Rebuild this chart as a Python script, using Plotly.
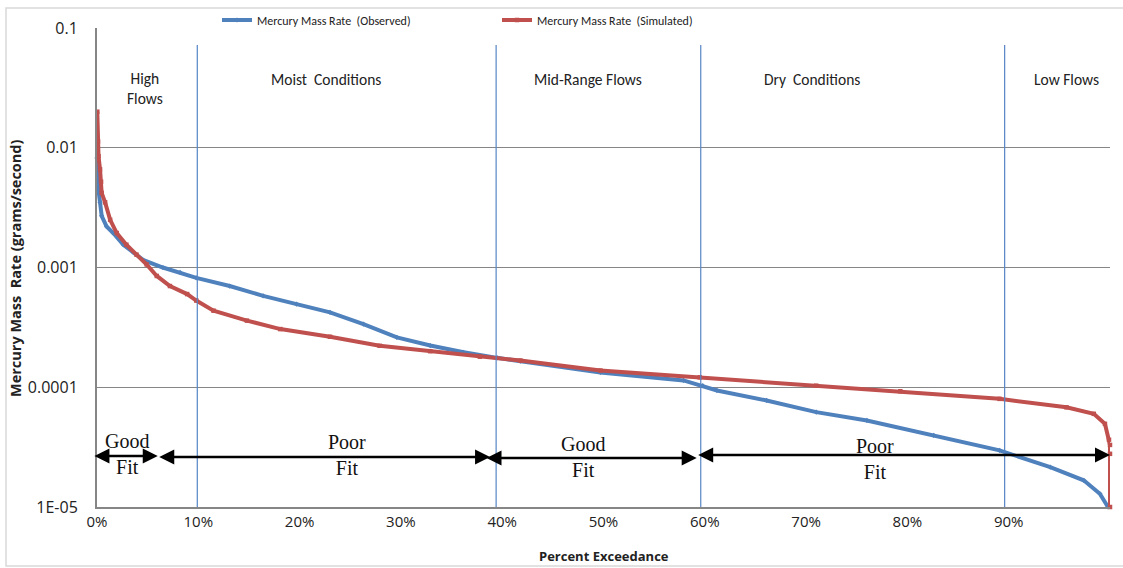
import plotly.graph_objects as go

# ---------------- data ----------------
obs_pct = [0, 0.13, 0.3, 0.46, 0.95, 1.6, 2.6, 3.6, 4.6, 6.5, 8.2, 9.8, 13.1, 16.4,
           19.7, 23, 26.3, 29.6, 32.9, 36.2, 39.5, 41.8, 49.7, 57.9, 59.8, 61.2,
           66.1, 71, 76, 82.6, 89.1, 94.1, 97.4, 99, 99.8]
obs_val = [0.0082, 0.0045, 0.0035, 0.0027, 0.0022, 0.00194, 0.00155, 0.00133, 0.00115,
           0.001, 0.00091, 0.00082, 0.0007, 0.00058, 0.000495, 0.000422, 0.000337,
           0.000261, 0.000223, 0.000196, 0.000176, 0.000165, 0.000133, 0.000114,
           0.000103, 0.000094, 0.0000776, 0.000062, 0.0000528, 0.0000396, 0.0000297,
           0.0000215, 0.0000167, 0.0000129, 0.00001]

sim_pct = [0.03, 0.1, 0.15, 0.3, 0.4, 0.46, 0.8, 1.3, 1.95, 2.9, 3.9, 4.9, 5.9, 7.2,
           8.9, 9.8, 11.5, 14.8, 18.1, 23, 27.9, 32.9, 37.8, 41.8, 49.7, 59.5, 71,
           79.3, 89.1, 95.7, 98.4, 99.5, 99.9, 100, 100, 100]
sim_val = [0.02, 0.0113, 0.0085, 0.0066, 0.0052, 0.0042, 0.0035, 0.0025, 0.00194,
           0.00155, 0.00128, 0.00106, 0.00085, 0.0007, 0.0006, 0.00053, 0.000436,
           0.00036, 0.000306, 0.000264, 0.000222, 0.0002, 0.00018, 0.000167,
           0.000138, 0.000121, 0.000103, 0.0000926, 0.00008, 0.000068, 0.00006,
           0.0000495, 0.0000365, 0.000033, 0.0000278, 0.00001]

x_ticks = [0, 10, 20, 30, 40, 50, 60, 70, 80, 90, 100]
x_tick_text = ["0%", "10%", "20%", "30%", "40%", "50%", "60%", "70%", "80%", "90%", "100%"]
y_ticks = [0.00001, 0.0001, 0.001, 0.01, 0.1]
y_tick_text = ["1E-05", "0.0001", "0.001", "0.01", "0.1"]

region_pct = [9.9, 39.4, 59.6, 89.6]
region_labels = ["High<br>Flows", "Moist  Conditions", "Mid-Range Flows",
                 "Dry  Conditions", "Low Flows"]
region_label_pct = [4.7, 22.6, 48.5, 70.6, 95.7]
fit_labels = ["Good<br>Fit", "Poor<br>Fit", "Good<br>Fit", "Poor<br>Fit"]
fit_label_pct = [2.96, 24.7, 48.0, 76.8]
fit_arrows = [(-0.4, 6.0), (6.0, 38.8), (38.3, 59.2), (59.2, 100)]

y_title = "<b>Mercury Mass  Rate (grams/second)</b>"
x_title = "<b>Percent Exceedance</b>"

# ---------------- layout helpers ----------------
L, R, T, B = 97, 1110, 28, 507
W, H = 1123, 568


def py(yp):
    return (B - yp) / (B - T)


def pxp(xp):
    return (xp - L) / (R - L)


BLUE = "#4F81BD"
RED = "#C0504D"
SANS = "Carlito, 'Liberation Sans Narrow', 'DejaVu Sans Condensed', 'Open Sans', sans-serif"
TICKF = "'Open Sans', sans-serif"
SERIF = "'Liberation Serif', 'Times New Roman', serif"

fig = go.Figure()
fig.add_trace(go.Scatter(
    x=obs_pct, y=obs_val, name="Mercury Mass Rate  (Observed)",
    mode="lines+markers", line=dict(color=BLUE, width=4), cliponaxis=False,
    marker=dict(symbol="diamond", size=4, color=BLUE)))
fig.add_trace(go.Scatter(
    x=sim_pct, y=sim_val, name="Mercury Mass Rate  (Simulated)",
    mode="lines+markers", line=dict(color=RED, width=4), cliponaxis=False,
    marker=dict(symbol="square", size=4.5, color=RED)))

shapes = []
for p in region_pct:
    shapes.append(dict(type="line", xref="x", yref="paper", x0=p, x1=p,
                       y0=0, y1=py(45), line=dict(color="#5585C5", width=1.2)))
# outer chart border
shapes.append(dict(type="rect", xref="paper", yref="paper",
                   x0=pxp(6), x1=pxp(1126), y0=py(566), y1=py(8),
                   line=dict(color="#D9D9D9", width=1.5), layer="below"))

annotations = []
for lab, p in zip(region_labels, region_label_pct):
    yy = 88 if "<br>" in lab else 79
    annotations.append(dict(text=lab, x=p, y=py(yy), xref="x", yref="paper",
                            xanchor="center", yanchor="middle",
                            showarrow=False, font=dict(family=SANS, size=15.5, color="#222")))
fit_y = [453.5, 454.5, 457.5, 459]
for lab, p, yy in zip(fit_labels, fit_label_pct, fit_y):
    annotations.append(dict(text=lab, x=p, y=py(yy), xref="x", yref="paper",
                            xanchor="center", yanchor="middle",
                            showarrow=False, font=dict(family=SERIF, size=20, color="#111")))
arrow_y = [456, 457, 458, 455]
for (a, b), yy in zip(fit_arrows, arrow_y):
    annotations.append(dict(text="", x=b, y=py(yy), xref="x", yref="paper",
                            ax=a, ay=0, axref="x", ayref="pixel",
                            showarrow=True, arrowhead=2, arrowside="end+start",
                            arrowsize=1.2, arrowwidth=2.5, arrowcolor="black",
                            standoff=0, startstandoff=0))
# axis titles placed as annotations for exact positioning
annotations.append(dict(text=y_title, textangle=-90, x=pxp(15), y=py(268),
                        xref="paper", yref="paper", xanchor="center", yanchor="middle",
                        showarrow=False, font=dict(family=TICKF, size=14.5, color="#222")))
annotations.append(dict(text=x_title, x=pxp(604), y=py(556),
                        xref="paper", yref="paper", xanchor="center", yanchor="middle",
                        showarrow=False, font=dict(family=TICKF, size=13, color="#222")))

fig.update_layout(
    width=W, height=H,
    margin=dict(l=L, r=W - R, t=T, b=H - B, autoexpand=False),
    paper_bgcolor="white", plot_bgcolor="white",
    shapes=shapes, annotations=annotations,
    showlegend=True,
    legend=dict(orientation="h", x=pxp(217), y=py(20), xanchor="left", yanchor="middle",
                font=dict(family=SANS, size=12, color="#222"),
                entrywidth=235, entrywidthmode="pixels", bgcolor="rgba(0,0,0,0)"),
    xaxis=dict(range=[0, 100], tickvals=x_ticks, ticktext=x_tick_text, automargin=False,
               showgrid=False, zeroline=False, showline=True, linecolor="#868686",
               linewidth=2, ticks="", tickfont=dict(family=TICKF, size=15, color="#222")),
    yaxis=dict(type="log", range=[-5, -1], tickvals=y_ticks, ticktext=y_tick_text,
               automargin=False,
               showgrid=True, gridcolor="#868686", gridwidth=1, zeroline=False,
               showline=True, linecolor="#868686", linewidth=2, ticks="",
               ticklabelstandoff=14,
               tickfont=dict(family=TICKF, size=16, color="#222")),
)

fig.write_html("out.html", config={"displayModeBar": False},
               post_script="document.body.style.margin='0px';")
